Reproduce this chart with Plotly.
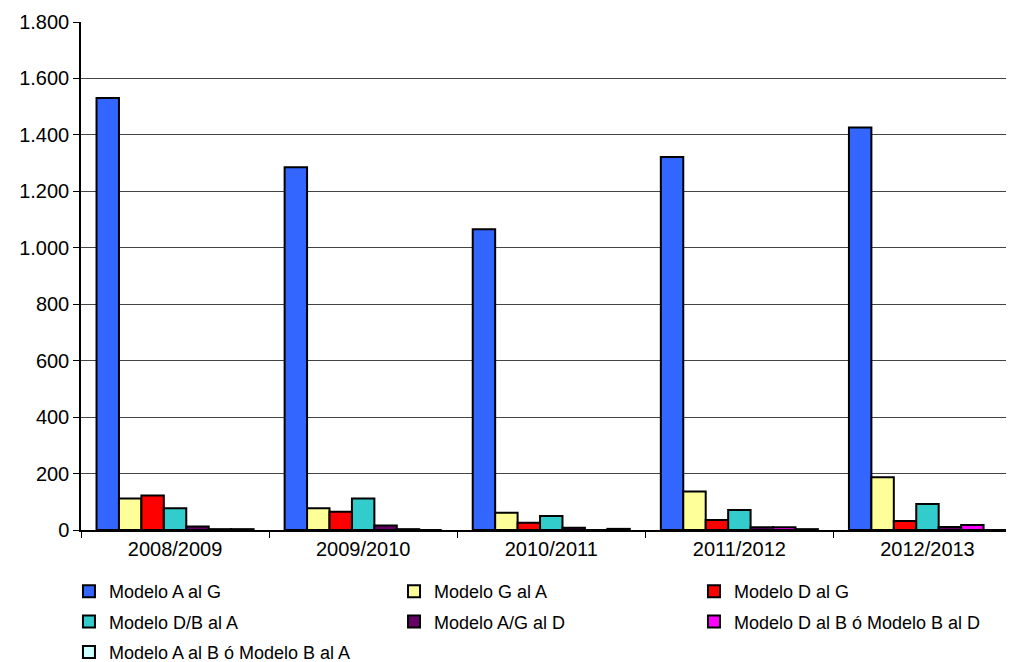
import plotly.graph_objects as go

categories = ["2008/2009", "2009/2010", "2010/2011", "2011/2012", "2012/2013"]
series_names = [
    "Modelo A al G", "Modelo G al A", "Modelo D al G", "Modelo D/B al A",
    "Modelo A/G al D", "Modelo D al B ó Modelo B al D", "Modelo A al B ó Modelo B al A",
]
modelo_a_al_g = [1531, 1285, 1066, 1322, 1426]
modelo_g_al_a = [112, 77, 61, 136, 187]
modelo_d_al_g = [122, 65, 26, 35, 32]
modelo_db_al_a = [77, 112, 50, 71, 92]
modelo_ag_al_d = [12, 16, 8, 10, 11]
modelo_d_al_b = [3, 3, 0, 10, 18]
modelo_a_al_b = [3, 0, 4, 3, 0]
colors = ["#3366FF", "#FFFF99", "#FF0000", "#33CCCC", "#660066", "#FF00FF", "#CCFFFF"]

y_tickvals = [0, 200, 400, 600, 800, 1000, 1200, 1400, 1600, 1800]
y_ticktext = ["0", "200", "400", "600", "800", "1.000", "1.200", "1.400", "1.600", "1.800"]

all_values = [modelo_a_al_g, modelo_g_al_a, modelo_d_al_g, modelo_db_al_a,
              modelo_ag_al_d, modelo_d_al_b, modelo_a_al_b]
legend_ids = ["legend", "legend2", "legend3", "legend", "legend2", "legend3", "legend"]

fig = go.Figure()
for i, (name, vals) in enumerate(zip(series_names, all_values)):
    fig.add_trace(go.Bar(
        x=categories, y=vals, name=name,
        marker=dict(color=colors[i], line=dict(color="black", width=2)),
        legend=legend_ids[i], legendgroup=f"g{i}",
    ))

font = dict(family="Liberation Sans, Arial, sans-serif", size=20, color="black")
legend_common = dict(
    orientation="v", yanchor="top", y=-0.0846, xanchor="left",
    font=dict(family="Liberation Sans, Arial, sans-serif", size=18, color="black"),
    bgcolor="rgba(0,0,0,0)", tracegroupgap=4, itemwidth=30,
)
fig.update_layout(
    width=1014, height=662,
    margin=dict(l=73, r=8, t=14, b=140, autoexpand=False),
    plot_bgcolor="white", paper_bgcolor="white",
    font=font,
    barmode="group", bargap=0.165, bargroupgap=0,
    showlegend=True,
    legend=dict(legend_common, x=-0.0129),
    legend2=dict(legend_common, x=0.3355),
    legend3=dict(legend_common, x=0.657),
    xaxis=dict(
        type="category", range=[-0.5, 4.46], automargin=False,
        showline=True, linecolor="black", linewidth=1.5,
        ticks="outside", tickson="boundaries", ticklen=6, tickcolor="black",
        showgrid=False, tickfont=font,
    ),
    yaxis=dict(
        range=[0, 1800], tickvals=y_tickvals, ticktext=y_ticktext, automargin=False,
        showline=True, linecolor="black", linewidth=1.5,
        ticks="outside", ticklen=6, tickcolor="black",
        showgrid=True, gridcolor="#444444", gridwidth=1,
        zeroline=False, tickfont=font,
    ),
)

fig.write_html("out.html")
